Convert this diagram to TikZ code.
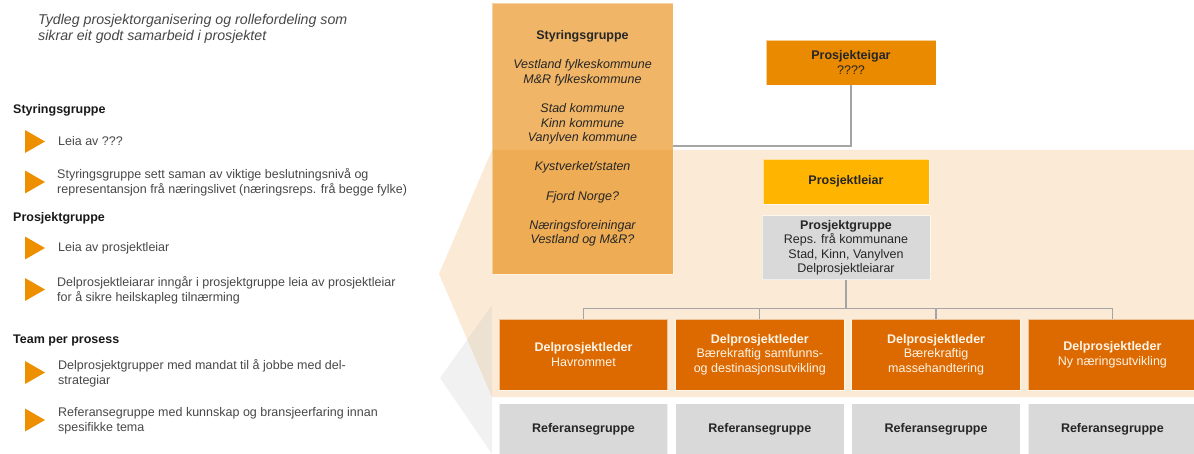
\documentclass[tikz,border=0pt]{standalone}
\usepackage{fontspec}
\setmainfont{Liberation Sans}
\usetikzlibrary{positioning}

\definecolor{eigar}{HTML}{E98A00}
\definecolor{leiar}{HTML}{FFB400}
\definecolor{delpl}{HTML}{DC6A00}
\definecolor{styr}{HTML}{E68300}
\definecolor{bakgr}{HTML}{FBEBD6}
\definecolor{lysgraa}{HTML}{D9D9D9}
\definecolor{strek}{HTML}{A5A5A5}
\definecolor{mork}{HTML}{262626}
\definecolor{kvit}{HTML}{FFF4E8}
\definecolor{pil}{HTML}{EE8F00}

\tikzset{
  boks/.style={draw=white, draw opacity=.6, line width=.8pt, inner sep=0pt, align=center,
    text=mork, font=\fontsize{12.5}{14.6}\selectfont},
  del/.style={boks, fill=delpl, text=kvit, minimum width=168.5pt, minimum height=71pt},
  ref/.style={boks, fill=lysgraa, minimum width=168.5pt, minimum height=51pt,
    font=\fontsize{12.5}{14.6}\selectfont\bfseries},
  venstre/.style={anchor=west, align=left, inner sep=0pt, text=mork!85,
    font=\fontsize{12.5}{15}\selectfont},
  overskrift/.style={venstre, text=black!90, font=\fontsize{12.5}{15}\selectfont\bfseries},
  linje/.style={draw=strek, line width=1.3pt}
}

\begin{document}
\begin{tikzpicture}[x=1pt,y=-1pt]
  \useasboundingbox (0,0) rectangle (1194,454);

  \fill[bakgr] (439,274) -- (492,150) -- (1194,150) -- (1194,397) -- (492,397) -- cycle;
  \fill[black!22, opacity=.25] (492,305) -- (440,378) -- (492,454) -- cycle;

  \node[venstre, text=mork!85, font=\fontsize{14.2}{16}\selectfont\itshape] (tittel) at (38,28.7)
    {Tydleg prosjektorganisering og rollefordeling som\\sikrar eit godt samarbeid i prosjektet};

  \node[overskrift] (h1) at (13,110) {Styringsgruppe};
  \node[venstre] (p1) at (58,141.5) {Leia av ???};
  \node[venstre] (p2) at (57,182.5) {Styringsgruppe sett saman av viktige beslutningsnivå og\\representansjon frå næringslivet (næringsreps. frå begge fylke)};
  \node[overskrift] (h2) at (13,218) {Prosjektgruppe};
  \node[venstre] (p3) at (58,248) {Leia av prosjektleiar};
  \node[venstre] (p4) at (57,290) {Delprosjektleiarar inngår i prosjektgruppe leia av prosjektleiar\\for å sikre heilskapleg tilnærming};
  \node[overskrift] (h3) at (13,340) {Team per prosess};
  \node[venstre] (p5) at (58,373) {Delprosjektgrupper med mandat til å jobbe med del-\\strategiar};
  \node[venstre] (p6) at (58,420.5) {Referansegruppe med kunnskap og bransjeerfaring innan\\spesifikke tema};

  \foreach \y in {141.5,182,248,289.5,372.5,420}
    \fill[pil] (25,\y-11.5) -- (45,\y) -- (25,\y+11.5) -- cycle;

  \node[boks, fill=styr, fill opacity=.6, text opacity=1, draw opacity=.4,
    font=\fontsize{12.5}{14.6}\selectfont\itshape,
    minimum width=181pt, minimum height=271pt] (styr) at (582.5,138.5)
    {\textbf{\textup{Styringsgruppe}}\\[14.6pt]
     Vestland fylkeskommune\\M\&R fylkeskommune\\[14.6pt]
     Stad kommune\\Kinn kommune\\Vanylven kommune\\[14.6pt]
     Kystverket/staten\\[14.6pt]
     Fjord Norge?\\[14.6pt]
     Næringsforeiningar\\Vestland og M\&R?};

  \node[boks, fill=eigar, minimum width=170pt, minimum height=45pt] (eigar) at (851,62.5)
    {\textbf{Prosjekteigar}\\????};
  \node[boks, fill=leiar, minimum width=166pt, minimum height=45pt,
    font=\fontsize{12.5}{14.6}\selectfont\bfseries] (leiar) at (846,181.5) {Prosjektleiar};
  \node[boks, fill=lysgraa, minimum width=168pt, minimum height=64pt, below=11pt of leiar] (gruppe)
    {\textbf{Prosjektgruppe}\\Reps. frå kommunane\\Stad, Kinn, Vanylven\\Delprosjektleiarar};

  \node[del] (d1) at (583.5,354.5) {\textbf{Delprosjektleder}\\Havrommet};
  \node[del, right=7pt of d1] (d2) {\textbf{Delprosjektleder}\\Bærekraftig samfunns-\\og destinasjonsutvikling};
  \node[del, right=7pt of d2] (d3) {\textbf{Delprosjektleder}\\Bærekraftig\\massehandtering};
  \node[del, right=7pt of d3] (d4) {\textbf{Delprosjektleder}\\Ny næringsutvikling};

  \node[ref, below=13pt of d1] (r1) {Referansegruppe};
  \node[ref, below=13pt of d2] (r2) {Referansegruppe};
  \node[ref, below=13pt of d3] (r3) {Referansegruppe};
  \node[ref, below=13pt of d4] (r4) {Referansegruppe};

  \draw[linje] (eigar.south) |- ([yshift=-7.5pt]styr.east);
  \foreach \i in {1,...,4}
    \draw[linje] (gruppe.south) -- ++(0,28) -| (d\i.north);
\end{tikzpicture}
\end{document}
